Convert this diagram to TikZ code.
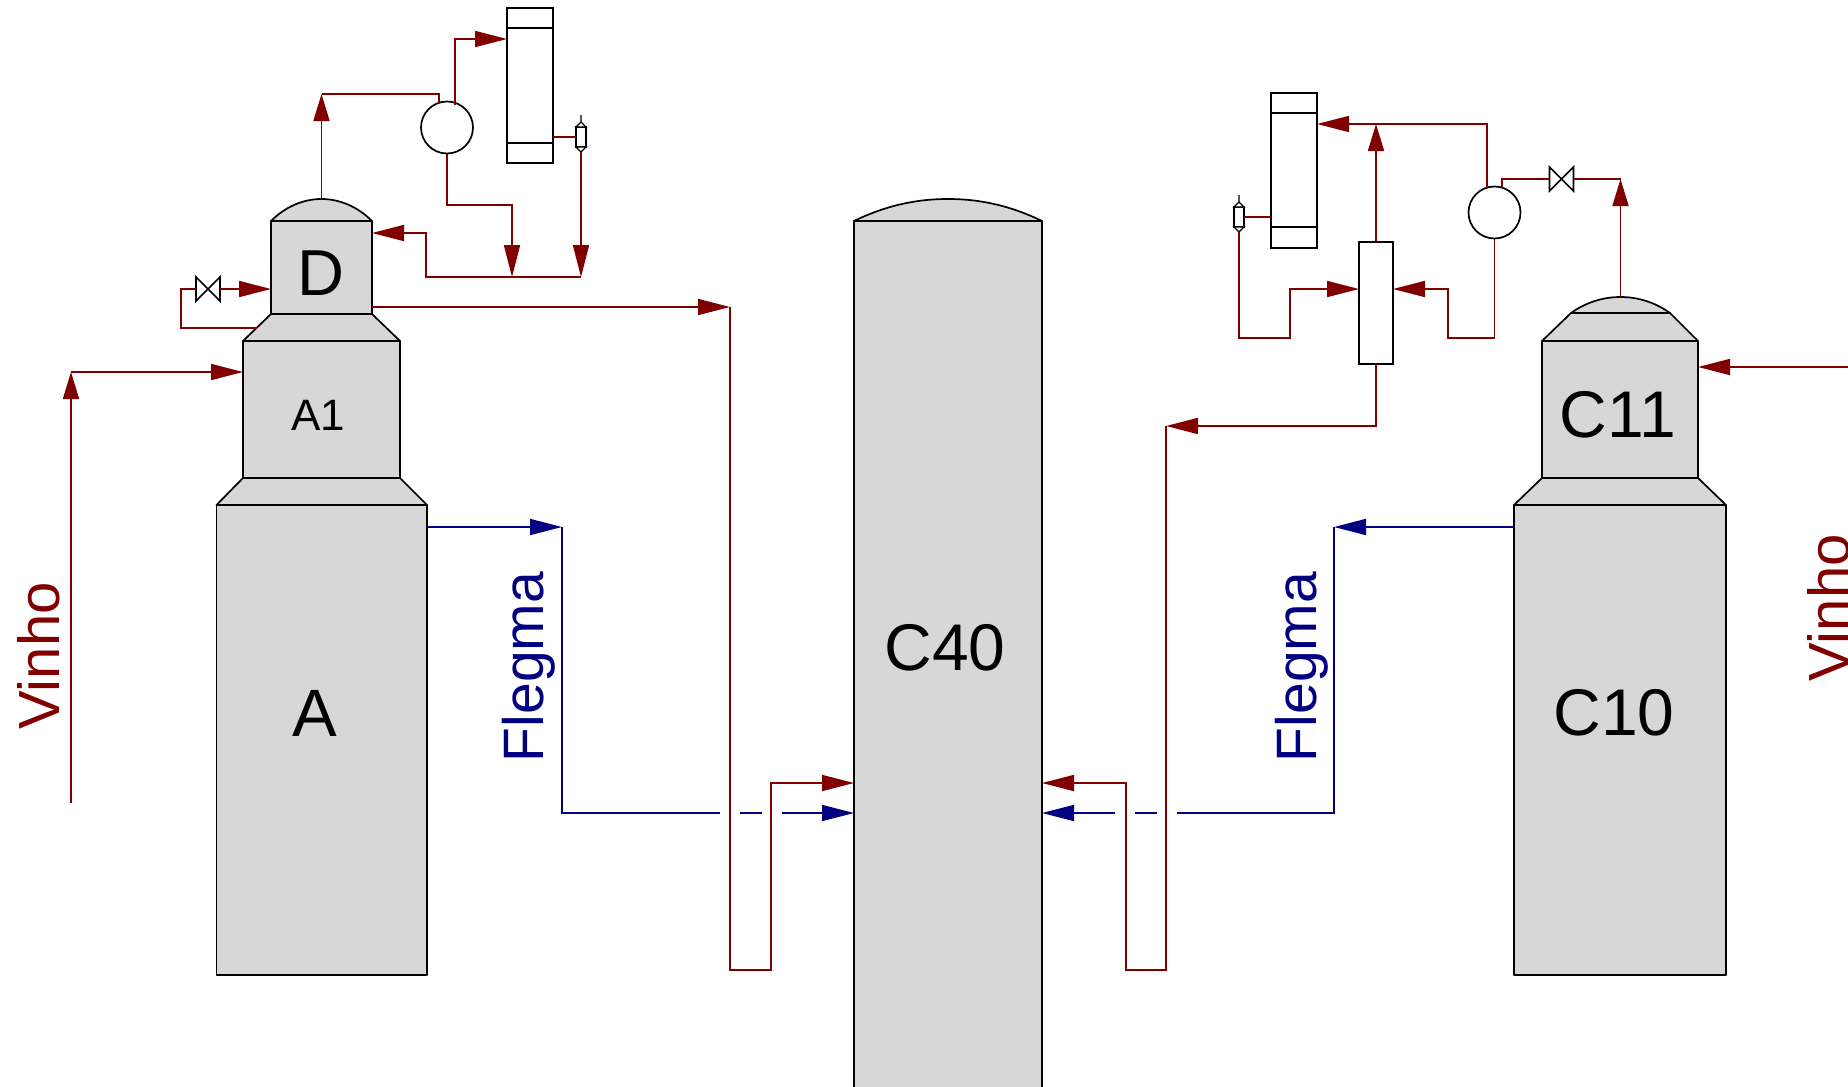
\documentclass[tikz,border=0pt]{standalone}
\usepackage{fontspec}
\setmainfont{Liberation Sans}
\usetikzlibrary{arrows.meta,calc}
\definecolor{pipe}{HTML}{800000}
\definecolor{flow}{HTML}{000080}
\definecolor{vessel}{HTML}{D7D7D7}
\tikzset{
  x=1pt,y=-1pt,
  shell/.style={draw=black,line width=1.7pt,fill=vessel,line join=round},
  shellbox/.style={shell,inner sep=0pt,outer sep=0pt,minimum width=#1},
  unit/.style={draw=black,line width=1.7pt,fill=white,inner sep=0pt,outer sep=0pt},
  pipeline/.style={draw=pipe,line width=1.7pt,line join=miter},
  flowline/.style={draw=flow,line width=1.7pt,line join=miter},
  head/.tip={Triangle[length=32pt,width=16pt,sep=0pt]},
  uphead/.tip={Triangle[length=27pt,width=16pt,sep=0pt]},
  lettering/.style={inner sep=0pt,font=\fontsize{#1}{#1}\selectfont},
  stream/.style={inner sep=0pt,anchor=base,rotate=90,font=\fontsize{#1}{#1}\selectfont},
}
\begin{document}
\begin{tikzpicture}
\useasboundingbox (0,0) rectangle (1848,1087);
% ---- vessel A / A1 / D
\node[shellbox=210.5pt,minimum height=470pt] (vesA) at (321.75,740) {};
\path[shell] (216.5,505) -- (243,478) -- (400,478) -- (427,505) -- cycle;
\node[shellbox=157pt,minimum height=137pt] (vesAone) at (321.5,409.5) {};
\path[shell] (243,341) -- (271,314) -- (372,314) -- (400,341) -- cycle;
\node[shellbox=101pt,minimum height=93pt] (vesD) at (321.5,267.5) {};
\path[shell] (271,221) .. controls (285,207) and (303,199) .. (321.5,199) .. controls (340,199) and (358,207) .. (372,221) -- cycle;
% ---- C40
\node[shellbox=188pt,minimum height=874pt] (colC) at (948,658) {};
\path[shell] (854,221) .. controls (885,206) and (915,199) .. (948,199) .. controls (981,199) and (1011,206) .. (1042,221) -- cycle;
% ---- C10 / C11
\node[shellbox=212pt,minimum height=470pt] (vesCten) at (1620,740) {};
\path[shell] (1514,505) -- (1542,478) -- (1698,478) -- (1726,505) -- cycle;
\node[shellbox=156pt,minimum height=137pt] (vesCeleven) at (1620,409.5) {};
\path[shell] (1542,341) -- (1571,313) -- (1670,313) -- (1698,341) -- cycle;
\path[shell] (1571,313) .. controls (1585,303) and (1602,297) .. (1620.5,297) .. controls (1639,297) and (1656,303) .. (1670,313) -- cycle;
% ---- vessel labels
\node[lettering=67] (lblA) at (315,713) {A};
\node[lettering=65] (lblD) at (321,273) {D};
\node[lettering=44] (lblAone) at (318,415) {A1};
\node[lettering=66] (lblCforty) at (945,648) {C40};
\node[lettering=66] (lblCten) at (1614,713) {C10};
\node[lettering=66] (lblCeleven) at (1618,415) {C11};
% ---- left overhead units
\node[unit,minimum width=46pt,minimum height=155pt] (condL) at (530,85.5) {};
\draw[line width=1.7pt] (507,28) -- (553,28) (507,143) -- (553,143);
\node[unit,circle,minimum size=52pt] (pumpL) at (447,127.5) {};
\node[unit,minimum width=10pt,minimum height=20pt] (sepL) at (581,137) {};
\draw[line width=1.3pt,fill=white] (576,127) -- (581,122) -- (586,127) -- cycle (576,147) -- (581,152) -- (586,147) -- cycle (581,122) -- (581,115);
\coordinate (sepLbot) at (581,152);
% ---- right overhead units
\node[unit,minimum width=46pt,minimum height=155pt] (condR) at (1294,170.5) {};
\draw[line width=1.7pt] (1271,113) -- (1317,113) (1271,227) -- (1317,227);
\node[unit,circle,minimum size=52pt] (pumpR) at (1494.5,212.5) {};
\node[unit,minimum width=10pt,minimum height=20pt] (sepR) at (1239,217) {};
\draw[line width=1.3pt,fill=white] (1234,207) -- (1239,202) -- (1244,207) -- cycle (1234,227) -- (1239,232) -- (1244,227) -- cycle (1239,202) -- (1239,195);
\coordinate (sepRbot) at (1239,232);
\node[unit,minimum width=34pt,minimum height=122pt] (exch) at (1376,303) {};
% ---- valves
\node[inner sep=0pt,minimum width=24pt,minimum height=24pt] (valveL) at (208,289) {};
\draw[line width=1.7pt,fill=white] (196,277) -- (220,301) -- (220,277) -- (196,301) -- cycle;
\node[inner sep=0pt,minimum width=24pt,minimum height=24pt] (valveR) at (1561.5,179) {};
\draw[line width=1.7pt,fill=white] (1549.5,167) -- (1573.5,191) -- (1573.5,167) -- (1549.5,191) -- cycle;
% ---- connection points
\coordinate (domeD) at (321.5,199);
\coordinate (tL) at (321.5,94);
\coordinate (pLa) at (439,103);
\coordinate (pLb) at (455,105);
\coordinate (condLin) at (507,39);
\coordinate (kL) at (512,205);
\coordinate (jL1) at (512,277);
\coordinate (jL2) at (581,277);
\coordinate (kD) at (426,277);
\coordinate (mD) at (426,233);
\coordinate (refluxD) at (372,233);
\coordinate (valveLin) at (271,289);
\coordinate (shoulderL) at (257,328);
\coordinate (kV) at (181,328);
\coordinate (mV) at (181,289);
\coordinate (Dout) at (372,307);
\coordinate (upL) at (730,307);
\coordinate (botL) at (730,970);
\coordinate (botLb) at (771,970);
\coordinate (cornL) at (771,783);
\coordinate (inL) at (854,783);
\coordinate (inR) at (1042,783);
\coordinate (cornR) at (1126,783);
\coordinate (botR) at (1126,970);
\coordinate (botRb) at (1166,970);
\coordinate (upR) at (1166,426);
\coordinate (top) at (1376,124);
\coordinate (pRa) at (1487,188);
\coordinate (pRb) at (1502,188);
\coordinate (condRin) at (1317,124);
\coordinate (condRout) at (1271,217);
\coordinate (condLout) at (553,137);
\coordinate (kR) at (1448,338);
\coordinate (kS) at (1290,338);
\coordinate (exchL) at (1359,289);
\coordinate (exchR) at (1393,289);
\coordinate (domeC) at (1620.5,297);
\coordinate (tR) at (1620.5,179);
\coordinate (viL) at (71,803);
\coordinate (viLc) at (71,372);
\coordinate (viLe) at (243,372);
\coordinate (viR) at (1848,367);
\coordinate (viRe) at (1698,367);
\coordinate (flL) at (427,527);
\coordinate (flLc) at (562,527);
\coordinate (flLb) at (562,813);
\coordinate (flR) at (1514,527);
\coordinate (flRc) at (1334,527);
\coordinate (flRb) at (1334,813);
\coordinate (blL) at (854,813);
\coordinate (blR) at (1042,813);
\coordinate (gLa) at (720,813);
\coordinate (gLb) at (740,813);
\coordinate (gLc) at (762,813);
\coordinate (gLd) at (782,813);
\coordinate (gRa) at (1177,813);
\coordinate (gRb) at (1157,813);
\coordinate (gRc) at (1135,813);
\coordinate (gRd) at (1115,813);
% ---- red pipes, left
\draw[pipeline,-{uphead}] (domeD) -- (tL);
\draw[pipeline] (tL) -| (pLa);
\draw[pipeline,-{head}] (pLb) |- (condLin);
\draw[pipeline,-{head}] (pumpL.south) |- (kL) -- (jL1);
\draw[pipeline] (condLout) -- (sepL.west);
\draw[pipeline,-{head}] (sepLbot) -- (jL2);
\draw[pipeline,-{head}] (jL2) -- (kD) -- (mD) -- (refluxD);
\draw[pipeline] (shoulderL) -- (kV) -- (mV) -- (valveL.west);
\draw[pipeline,-{head}] (valveL.east) -- (valveLin);
\draw[pipeline,-{head}] (Dout) -- (upL);
\draw[pipeline,-{head}] (upL) -- (botL) -- (botLb) -- (cornL) -- (inL);
% ---- red pipes, right
\draw[pipeline,-{head}] (upR) -- (botRb) -- (botR) -- (cornR) -- (inR);
\draw[pipeline,-{head}] (exch.south) |- (upR);
\draw[pipeline,-{uphead}] (exch.north) -- (top);
\draw[pipeline,-{head}] (pRa) |- (condRin);
\draw[pipeline] (pRb) |- (valveR.west);
\draw[pipeline] (valveR.east) -- (tR);
\draw[pipeline,-{uphead}] (domeC) -- (tR);
\draw[pipeline,-{head}] (pumpR.south) |- (kR) |- (exchR);
\draw[pipeline,-{head}] (sepRbot) |- (kS) |- (exchL);
\draw[pipeline] (condRout) -- (sepR.east);
\draw[pipeline,-{head}] (viR) -- (viRe);
% ---- Vinho left
\draw[pipeline,-{uphead}] (viL) -- (viLc);
\draw[pipeline,-{head}] (viLc) -- (viLe);
% ---- blue lines
\draw[flowline,-{head}] (flL) -- (flLc);
\draw[flowline] (flLc) -- (flLb) -- (gLa);
\draw[flowline] (gLb) -- (gLc);
\draw[flowline,-{head}] (gLd) -- (blL);
\draw[flowline,-{head}] (flR) -- (flRc);
\draw[flowline] (flRc) -- (flRb) -- (gRa);
\draw[flowline] (gRb) -- (gRc);
\draw[flowline,-{head}] (gRd) -- (blR);
% ---- stream labels
\node[stream=58,text=pipe] (vL) at (59,656) {Vinho};
\node[stream=57,text=flow] (fL) at (543,667) {Flegma};
\node[stream=57,text=flow] (fR) at (1316,667) {Flegma};
\node[stream=58,text=pipe] (vR) at (1849,608) {Vinho};
\end{tikzpicture}
\end{document}
